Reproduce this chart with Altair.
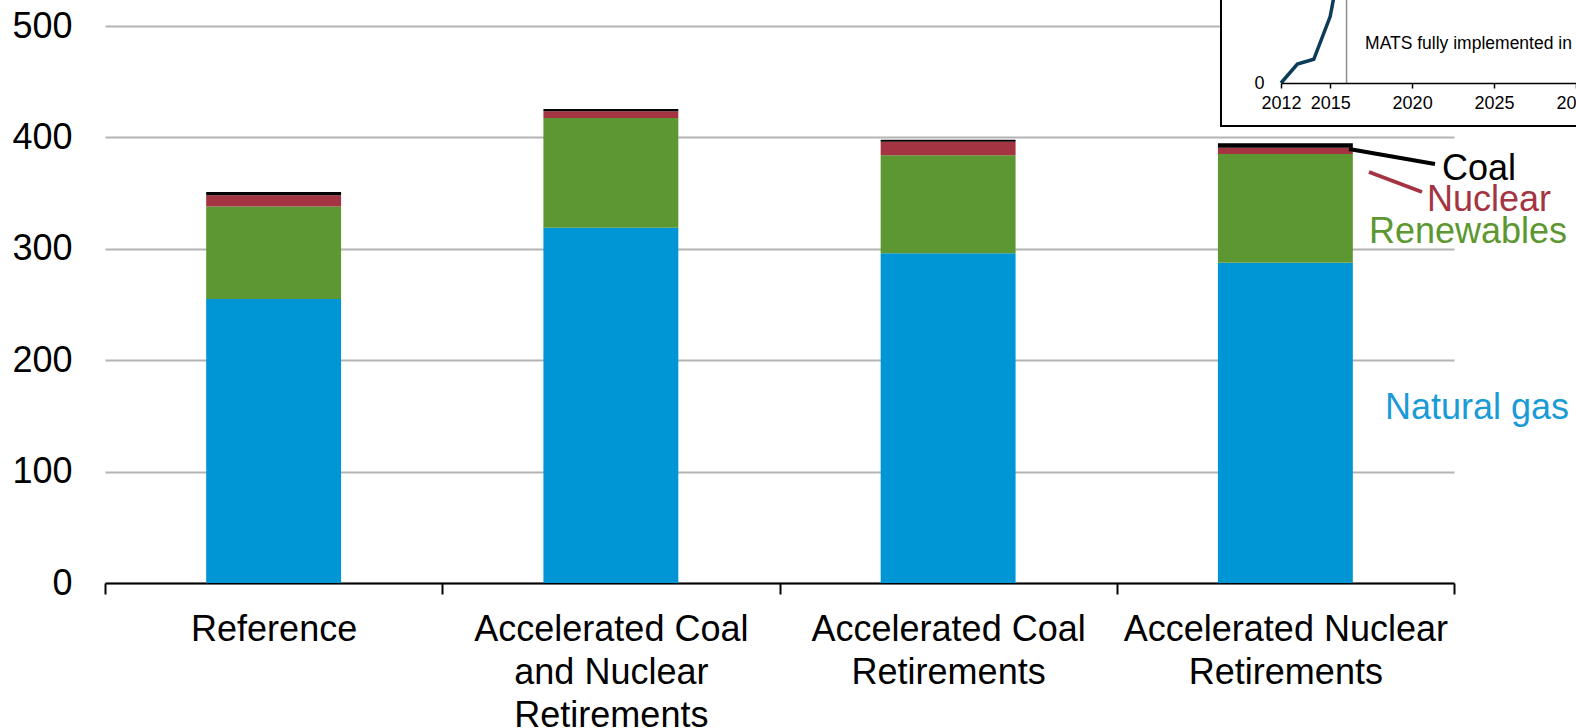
import altair as alt
import pandas as pd

FONT = "Liberation Sans"

# ---- main chart data ----
scenarios = [
    "Reference",
    "Accelerated Coal|and Nuclear|Retirements",
    "Accelerated Coal|Retirements",
    "Accelerated Nuclear|Retirements",
]
fuels = ["Natural gas", "Renewables", "Nuclear", "Coal"]
fuel_colors = ["#0096D6", "#5D9732", "#A43442", "#000000"]
natural_gas = [255, 319, 296, 287.5]
renewables = [83, 98.5, 88, 97.5]
nuclear = [10, 6, 12, 5.7]
coal = [3, 2, 2, 4]
y_ticks = [0, 100, 200, 300, 400, 500]

# ---- inset data ----
inset_years = [2012, 2013, 2014, 2015, 2016]
inset_values = [0, 9, 11.3, 31.6, 73]
inset_x_ticks = [2012, 2015, 2020, 2025, 2030]
mats_year = [2016]
mats_text = ["MATS fully implemented in 2016"]

rows = []
series = [natural_gas, renewables, nuclear, coal]
for i, s in enumerate(scenarios):
    for k, f in enumerate(fuels):
        rows.append({"scenario": s, "fuel": f, "value": series[k][i], "idx": k})
df = pd.DataFrame(rows)

bars = alt.Chart(df).mark_bar(width={"band": 0.4}).encode(
    x=alt.X("scenario:N", sort=scenarios,
            scale=alt.Scale(paddingInner=0, paddingOuter=0),
            axis=alt.Axis(title=None, labelAngle=0, labelFontSize=36, labelFont=FONT,
                          labelColor="black", labelExpr="split(datum.label, '|')",
                          labelLineHeight=43, tickBand="extent", tickSize=11,
                          tickColor="black", tickWidth=2, domainColor="black",
                          domainWidth=2, labelPadding=18, grid=False, labelLimit=500)),
    y=alt.Y("value:Q", stack="zero",
            scale=alt.Scale(domain=[0, 500], nice=False),
            axis=alt.Axis(title=None, values=y_ticks, labelFontSize=36, labelFont=FONT,
                          labelColor="black", domain=False, ticks=False, tickSize=0,
                          labelPadding=33, grid=True, gridColor="#b3b3b3", gridWidth=2)),
    color=alt.Color("fuel:N", scale=alt.Scale(domain=fuels, range=fuel_colors), legend=None),
    order=alt.Order("idx:Q"),
)

one = pd.DataFrame({"a": [0]})


def label(text, x, y, color):
    return alt.Chart(one).mark_text(
        text=text, align="left", baseline="alphabetic", fontSize=36, font=FONT, color=color
    ).encode(x=alt.value(x), y=alt.value(y))


def leader(x1, y1, x2, y2, color):
    return alt.Chart(one).mark_rule(color=color, strokeWidth=4).encode(
        x=alt.value(x1), x2=alt.value(x2), y=alt.value(y1), y2=alt.value(y2))


main = alt.layer(
    bars,
    leader(1244, 123, 1330, 138, "black"),
    leader(1264, 146, 1317, 166, "#A43442"),
    label("Coal", 1337, 154, "black"),
    label("Nuclear", 1322, 185, "#A43442"),
    label("Renewables", 1264, 217, "#5D9732"),
    label("Natural gas", 1280, 393, "#1A9AD6"),
)

# ---- inset ----
xs = alt.Scale(domain=[2012, 2030], range=[1176, 1471], nice=False, zero=False)
ys = alt.Scale(domain=[0, 40], range=[57, -27], nice=False, zero=False)
x_axis = alt.Axis(values=inset_x_ticks, format="d", orient="bottom", offset=-500,
                  labelFontSize=18, labelFont=FONT, labelColor="black", tickSize=5,
                  tickColor="black", domainColor="black", domainWidth=1.5, tickWidth=1.5,
                  labelPadding=6, grid=False, title=None, zindex=2,
                  labelFlush=False, labelOverlap=False, labelBound=False)
y_axis = alt.Axis(values=[0], orient="left", offset=-1176, domain=False, ticks=False,
                  tickSize=0, labelPadding=17, labelFontSize=18, labelFont=FONT,
                  labelColor="black", grid=False, title=None, zindex=2)

box = alt.Chart(one).mark_rect(fill="white", stroke="black", strokeWidth=2).encode(
    x=alt.value(1116), x2=alt.value(1700), y=alt.value(-80), y2=alt.value(100))

line_df = pd.DataFrame({"year": inset_years, "val": inset_values})
inset_line = alt.Chart(line_df).mark_line(color="#0C3C58", strokeWidth=3.5).encode(
    x=alt.X("year:Q", scale=xs, axis=x_axis),
    y=alt.Y("val:Q", scale=ys, axis=y_axis),
)

rule_df = pd.DataFrame({"year": mats_year, "val": [0], "val2": [80]})
mats_rule = alt.Chart(rule_df).mark_rule(color="#8c8c8c", strokeWidth=1.5).encode(
    x=alt.X("year:Q", scale=xs, axis=x_axis),
    y=alt.Y("val:Q", scale=ys, axis=y_axis),
    y2="val2:Q",
)

text_df = pd.DataFrame({"year": [2017.13], "val": [18.5], "t": mats_text})
mats_label = alt.Chart(text_df).mark_text(
    align="left", baseline="middle", fontSize=17.5, font=FONT, color="black"
).encode(
    x=alt.X("year:Q", scale=xs, axis=x_axis),
    y=alt.Y("val:Q", scale=ys, axis=y_axis),
    text="t:N",
)

inset = alt.layer(box, inset_line, mats_rule, mats_label)

chart = alt.layer(main, inset).resolve_scale(
    x="independent", y="independent"
).properties(
    width=1349, height=557,
    padding={"left": 105, "top": 26, "right": 122, "bottom": 145},
    autosize=alt.AutoSizeParams(type="none"),
).configure_view(stroke=None)

chart.save("out.html", embed_options={"renderer": "svg", "actions": False})
